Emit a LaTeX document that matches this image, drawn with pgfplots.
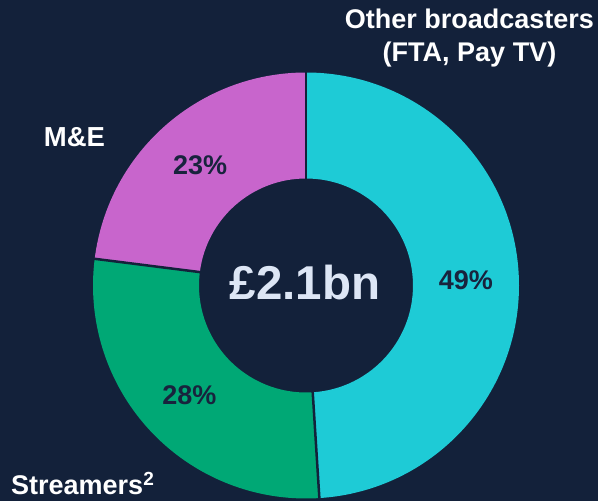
\documentclass[border=0pt]{standalone}
\usepackage{pgfplots}
\pgfplotsset{compat=1.18}
\usepackage{pgfplotstable}
\usepackage{fontspec}
\setmainfont{Liberation Sans}
\definecolor{bg}{HTML}{13213A}
\definecolor{cyanseg}{HTML}{1ECBD6}
\definecolor{greenseg}{HTML}{00A875}
\definecolor{magseg}{HTML}{C865CC}
\definecolor{centertxt}{HTML}{DDE6F5}
\definecolor{pcttxt}{HTML}{18233D}
\pgfplotstableread{
label value
Other 49
Streamers 28
ME 23
}\shares
\pgfplotstablegetelem{0}{value}\of\shares \let\va\pgfplotsretval
\pgfplotstablegetelem{1}{value}\of\shares \let\vb\pgfplotsretval
\pgfplotstablegetelem{2}{value}\of\shares \let\vc\pgfplotsretval
\pgfmathsetmacro\aZero{90}
\pgfmathsetmacro\aOne{\aZero-\va*3.6}
\pgfmathsetmacro\aTwo{\aOne-\vb*3.6}
\pgfmathsetmacro\aThree{\aTwo-\vc*3.6}
\pgfmathsetmacro\mA{(\aZero+\aOne)/2}
\pgfmathsetmacro\mB{(\aOne+\aTwo)/2}
\pgfmathsetmacro\mC{(\aTwo+\aThree)/2}
\def\Ro{213pt}
\def\Ri{107pt}
\def\Rl{160pt}
\begin{document}
\begin{tikzpicture}
\begin{axis}[
  width=598pt, height=501pt, scale only axis,
  xmin=0, xmax=598, ymin=0, ymax=501,
  hide axis, clip=false,
]
\fill[bg] (axis cs:0,0) rectangle (axis cs:598,501);
\coordinate (C) at (axis cs:306,215.5);
% sectors
\fill[cyanseg] ([shift={(\aZero:\Ro)}]C) arc[start angle=\aZero, end angle=\aOne, radius=\Ro]
  -- ([shift={(\aOne:\Ri)}]C) arc[start angle=\aOne, end angle=\aZero, radius=\Ri] -- cycle;
\fill[greenseg] ([shift={(\aOne:\Ro)}]C) arc[start angle=\aOne, end angle=\aTwo, radius=\Ro]
  -- ([shift={(\aTwo:\Ri)}]C) arc[start angle=\aTwo, end angle=\aOne, radius=\Ri] -- cycle;
\fill[magseg] ([shift={(\aTwo:\Ro)}]C) arc[start angle=\aTwo, end angle=\aThree, radius=\Ro]
  -- ([shift={(\aThree:\Ri)}]C) arc[start angle=\aThree, end angle=\aTwo, radius=\Ri] -- cycle;
% separators
\draw[bg, line width=2.5pt] ([shift={(\aZero:100pt)}]C) -- ([shift={(\aZero:213.5pt)}]C);
\draw[bg, line width=2.5pt] ([shift={(\aOne:100pt)}]C) -- ([shift={(\aOne:213.5pt)}]C);
\draw[bg, line width=2.5pt] ([shift={(\aTwo:100pt)}]C) -- ([shift={(\aTwo:213.5pt)}]C);
% percent labels
\node[font=\bfseries\fontsize{27}{30}\selectfont, text=pcttxt] at ([shift={(\mA:\Rl)}]C) {\va\%};
\node[font=\bfseries\fontsize{27}{30}\selectfont, text=pcttxt] at ([shift={(\mB:\Rl)}]C) {\vb\%};
\node[font=\bfseries\fontsize{27}{30}\selectfont, text=pcttxt] at ([shift={(\mC:\Rl)}]C) {\vc\%};
% center
\node[font=\bfseries\fontsize{47.5}{50}\selectfont, text=centertxt] at (axis cs:305,218) {£2.1bn};
% category labels
\node[font=\bfseries\fontsize{27}{33}\selectfont, text=white, align=center, inner sep=0pt] at (axis cs:469.5,463) {Other broadcasters\\(FTA, Pay TV)};
\node[font=\bfseries\fontsize{27.5}{30}\selectfont, text=white] at (axis cs:74.5,364) {M\&E};
\node[font=\bfseries\fontsize{27}{30}\selectfont, text=white, anchor=base west, inner sep=0pt] at (axis cs:11,6) {Streamers\textsuperscript{\fontsize{19}{20}\selectfont 2}};
\end{axis}
\end{tikzpicture}
\end{document}
